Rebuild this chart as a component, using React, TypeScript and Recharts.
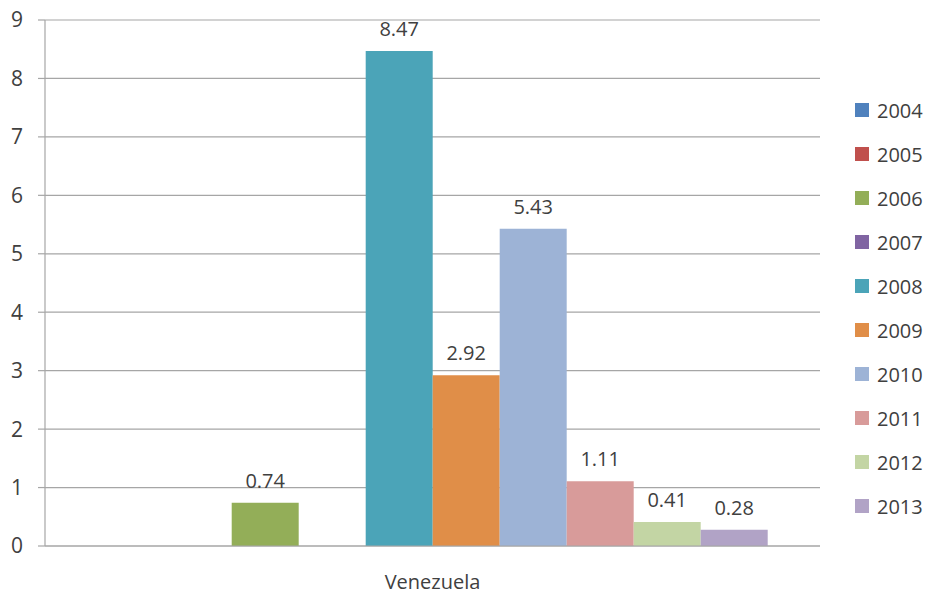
import React from "react";
import { BarChart, Bar, XAxis, YAxis, CartesianGrid, Legend, LabelList } from "recharts";

const category = "Venezuela";
const years = ["2004", "2005", "2006", "2007", "2008", "2009", "2010", "2011", "2012", "2013"];
const values = [0, 0, 0.74, 0, 8.47, 2.92, 5.43, 1.11, 0.41, 0.28];
const colors = ["#4F81BD", "#C0504D", "#93AE58", "#8064A2", "#4BA4B8", "#E08E48", "#9DB3D6", "#D89B9A", "#C3D5A4", "#B1A3C6"];
const yTicks = [0, 1, 2, 3, 4, 5, 6, 7, 8, 9];
// category boundaries, for the tick marks at the ends of the x axis
const edgeTicks = [0, 1];

const row: Record<string, string | number> = { name: category };
years.forEach((y, i) => {
  row["y" + y] = values[i];
});
const data = [row];

const FONT = "'Open Sans', sans-serif";

function LegendList(props: any) {
  const items = props.payload || [];
  return (
    <div style={{ fontFamily: FONT, fontSize: 20, color: "#404040" }}>
      {items.map((it: any) => (
        <div key={it.value} style={{ display: "flex", alignItems: "center", height: 44 }}>
          <span style={{ width: 14, height: 14, background: it.color, marginRight: 8, display: "inline-block" }} />
          <span>{it.value}</span>
        </div>
      ))}
    </div>
  );
}

export default function App() {
  return (
    <div style={{ position: "absolute", left: 0, top: 0 }}>
      <BarChart
        width={929}
        height={594}
        data={data}
        margin={{ top: 20, right: 35, left: 0, bottom: 0 }}
        barCategoryGap="6.8%"
        barGap={0}
      >
        <CartesianGrid vertical={false} stroke="#a6a6a6" strokeWidth={1.2} />
        <XAxis
          xAxisId="edge"
          type="number"
          domain={[0, 1]}
          ticks={edgeTicks}
          height={0}
          tick={false}
          tickSize={8}
          axisLine={false}
          tickLine={{ stroke: "#a6a6a6", strokeWidth: 1.2 }}
        />
        <XAxis
          dataKey="name"
          height={48}
          tickLine={false}
          tickSize={0}
          tickMargin={29}
          axisLine={{ stroke: "#a6a6a6", strokeWidth: 1.2 }}
          tick={{ fontFamily: FONT, fontSize: 20, fill: "#404040" }}
        />
        <YAxis
          width={45}
          domain={[0, 9]}
          ticks={yTicks}
          interval={0}
          tickSize={7}
          tickMargin={15}
          tickLine={{ stroke: "#a6a6a6", strokeWidth: 1.2 }}
          axisLine={{ stroke: "#a6a6a6", strokeWidth: 1.2 }}
          tick={{ fontFamily: FONT, fontSize: 21, fill: "#404040" }}
        />
        <Legend
          layout="vertical"
          align="right"
          verticalAlign="middle"
          width={74}
          wrapperStyle={{ top: 88, right: 0, left: "auto" }}
          content={<LegendList />}
        />
        {years.map((y, i) => (
          <Bar key={y} dataKey={"y" + y} name={y} fill={colors[i]} isAnimationActive={false}>
            <LabelList
              dataKey={"y" + y}
              position="top"
              offset={15}
              formatter={(v: any) => (v ? Number(v).toFixed(2) : "")}
              style={{ fontFamily: FONT, fontSize: 20, fill: "#404040" }}
            />
          </Bar>
        ))}
      </BarChart>
    </div>
  );
}
